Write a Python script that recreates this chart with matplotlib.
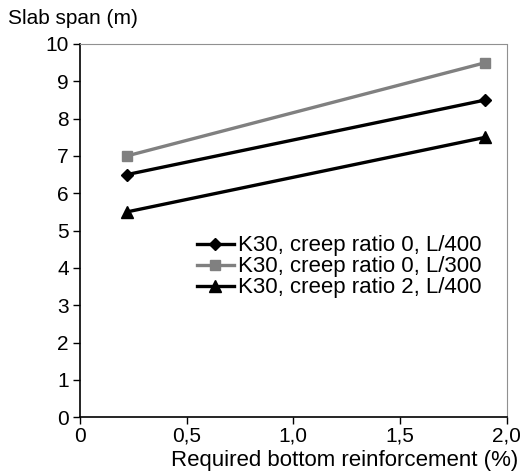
import matplotlib
matplotlib.use('Agg')
import matplotlib.pyplot as plt
from matplotlib.ticker import FuncFormatter, MultipleLocator

plt.rcParams['font.family'] = ['Liberation Sans', 'DejaVu Sans']

# Required bottom reinforcement (%) vs slab span (m)
reinforcement = [0.22, 1.9]
span_c0_l400 = [6.5, 8.5]
span_c0_l300 = [7.0, 9.5]
span_c2_l400 = [5.5, 7.5]

labels = ['K30, creep ratio 0, L/400',
          'K30, creep ratio 0, L/300',
          'K30, creep ratio 2, L/400']

fig = plt.figure(figsize=(5.29, 4.73), dpi=100)
ax = fig.add_axes([0.151, 0.118, 0.807, 0.789])

ax.plot(reinforcement, span_c0_l400, color='black', lw=2.4, marker='D',
        ms=6, label=labels[0])
ax.plot(reinforcement, span_c0_l300, color='#808080', lw=2.4, marker='s',
        ms=7, label=labels[1])
ax.plot(reinforcement, span_c2_l400, color='black', lw=2.4, marker='^',
        ms=9, label=labels[2])

ax.set_xlim(0, 2.0)
ax.set_ylim(0, 10)
ax.xaxis.set_major_locator(MultipleLocator(0.5))
ax.yaxis.set_major_locator(MultipleLocator(1))
ax.xaxis.set_major_formatter(FuncFormatter(
    lambda v, p: '0' if v == 0 else f'{v:.1f}'.replace('.', ',')))
ax.tick_params(direction='out', length=5, labelsize=15, width=1)
ax.tick_params(axis='x', pad=2)
ax.tick_params(axis='y', pad=3)

for side in ['top', 'right']:
    ax.spines[side].set_color('#909090')
    ax.spines[side].set_linestyle((0, (1, 1)))
for side in ['left', 'bottom']:
    ax.spines[side].set_color('black')
    ax.spines[side].set_linewidth(1.2)

fig.text(0.98, 0.027, 'Required bottom reinforcement (%)', fontsize=16,
         ha='right', va='center')
fig.text(0.015, 0.96, 'Slab span (m)', fontsize=15, va='center')

ax.legend(loc='center right', bbox_to_anchor=(0.962, 0.403), frameon=False,
          fontsize=16, handlelength=1.65, handletextpad=0.2, labelspacing=0.0,
          borderaxespad=0.0)

plt.savefig('out.png', dpi=100)
